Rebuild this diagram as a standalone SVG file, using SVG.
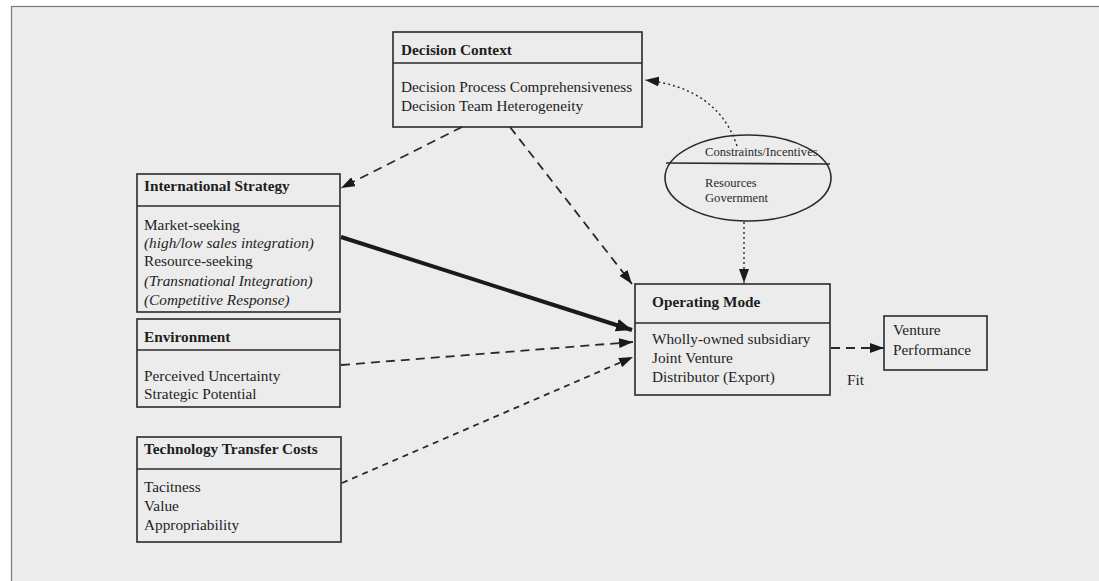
<svg xmlns="http://www.w3.org/2000/svg" width="1099" height="581" viewBox="0 0 1099 581">
  <style>
    .box { fill: none; stroke: #2a2a2a; stroke-width: 1.6; }
    .rule { stroke: #2a2a2a; stroke-width: 1.6; }
    .title { font-family: "Liberation Serif", "Times New Roman", serif; font-weight: bold; font-size: 15.3px; fill: #1e1e1e; }
    .body { font-family: "Liberation Serif", "Times New Roman", serif; font-size: 15.3px; fill: #1e1e1e; }
    .ital { font-style: italic; }
    .small { font-family: "Liberation Serif", "Times New Roman", serif; font-size: 12.6px; fill: #2a2a2a; }
    .dash { fill: none; stroke: #2a2a2a; stroke-width: 1.8; stroke-dasharray: 9 6; }
    .fine { fill: none; stroke: #2a2a2a; stroke-width: 1.8; stroke-dasharray: 6 5; }
    .dot { fill: none; stroke: #2a2a2a; stroke-width: 1.4; stroke-dasharray: 2 3; }
    .thick { fill: none; stroke: #1a1a1a; stroke-width: 4; }
  </style>
  <defs>
    <marker id="arrow" viewBox="0 0 14 10" refX="14" refY="5" markerWidth="14" markerHeight="10" markerUnits="userSpaceOnUse" orient="auto">
      <path d="M0,0 L14,5 L0,10 Z" fill="#1a1a1a"/>
    </marker>
    <marker id="arrowBig" viewBox="0 0 16 13" refX="16" refY="6.5" markerWidth="16" markerHeight="13" markerUnits="userSpaceOnUse" orient="auto">
      <path d="M0,0 L16,6.5 L0,13 Z" fill="#1a1a1a"/>
    </marker>
  </defs>

  <!-- page background and frame -->
  <rect x="0" y="0" width="1099" height="581" fill="#ffffff"/>
  <rect x="11.5" y="6.5" width="1100" height="600" fill="#ececec" stroke="#7a7a7a" stroke-width="1.2"/>

  <!-- connectors -->
  <g id="connectors">
    <path class="dot" d="M737,146 Q718,88 645,80" marker-end="url(#arrow)"/>
    <path class="dot" d="M744,222 L744,283" marker-end="url(#arrow)"/>
    <path class="dash" d="M462,127 L341,188" marker-end="url(#arrow)"/>
    <path class="dash" d="M510,127 L632,284" marker-end="url(#arrow)"/>
    <path class="thick" d="M341,237 L632,330" marker-end="url(#arrowBig)"/>
    <path class="dash" d="M341,365 L633,342" marker-end="url(#arrow)"/>
    <path class="fine" d="M342,483 L633,357" marker-end="url(#arrow)"/>
    <path class="dash" d="M831,348 L884,348" marker-end="url(#arrow)"/>
    <text class="body" x="847" y="385">Fit</text>
  </g>

  <!-- Decision Context -->
  <g id="decision-context">
    <rect class="box" x="393" y="32" width="249" height="95"/>
    <line class="rule" x1="393" y1="63" x2="642" y2="63"/>
    <text class="title" x="401" y="55">Decision Context</text>
    <text class="body" x="401" y="92">Decision Process Comprehensiveness</text>
    <text class="body" x="401" y="111">Decision Team Heterogeneity</text>
  </g>

  <!-- Constraints / Incentives -->
  <g id="constraints">
    <ellipse class="box" cx="748" cy="178" rx="83" ry="43"/>
    <line class="rule" x1="666" y1="163" x2="830" y2="164"/>
    <text class="small" x="705" y="156">Constraints/Incentives</text>
    <text class="small" x="705" y="187">Resources</text>
    <text class="small" x="705" y="202">Government</text>
  </g>

  <!-- International Strategy -->
  <g id="international-strategy">
    <rect class="box" x="137" y="174" width="203" height="138"/>
    <line class="rule" x1="137" y1="206" x2="340" y2="206"/>
    <text class="title" x="144" y="191">International Strategy</text>
    <text class="body" x="144" y="230">Market-seeking</text>
    <text class="body ital" x="144" y="248">(high/low sales integration)</text>
    <text class="body" x="144" y="266">Resource-seeking</text>
    <text class="body ital" x="144" y="286">(Transnational Integration)</text>
    <text class="body ital" x="144" y="305">(Competitive Response)</text>
  </g>

  <!-- Environment -->
  <g id="environment">
    <rect class="box" x="137" y="319" width="203" height="88"/>
    <line class="rule" x1="137" y1="350" x2="340" y2="350"/>
    <text class="title" x="144" y="342">Environment</text>
    <text class="body" x="144" y="381">Perceived Uncertainty</text>
    <text class="body" x="144" y="399">Strategic Potential</text>
  </g>

  <!-- Technology Transfer Costs -->
  <g id="technology-transfer">
    <rect class="box" x="137" y="437" width="204" height="105"/>
    <line class="rule" x1="137" y1="469" x2="341" y2="469"/>
    <text class="title" x="144" y="454">Technology Transfer Costs</text>
    <text class="body" x="144" y="492">Tacitness</text>
    <text class="body" x="144" y="511">Value</text>
    <text class="body" x="144" y="530">Appropriability</text>
  </g>

  <!-- Operating Mode -->
  <g id="operating-mode">
    <rect class="box" x="635" y="284" width="195" height="111"/>
    <line class="rule" x1="635" y1="323" x2="830" y2="323"/>
    <text class="title" x="652" y="307">Operating Mode</text>
    <text class="body" x="652" y="344">Wholly-owned subsidiary</text>
    <text class="body" x="652" y="363">Joint Venture</text>
    <text class="body" x="652" y="382">Distributor (Export)</text>
  </g>

  <!-- Venture Performance -->
  <g id="venture-performance">
    <rect class="box" x="884" y="316" width="103" height="54"/>
    <text class="body" x="893" y="335">Venture</text>
    <text class="body" x="893" y="355">Performance</text>
  </g>
</svg>
